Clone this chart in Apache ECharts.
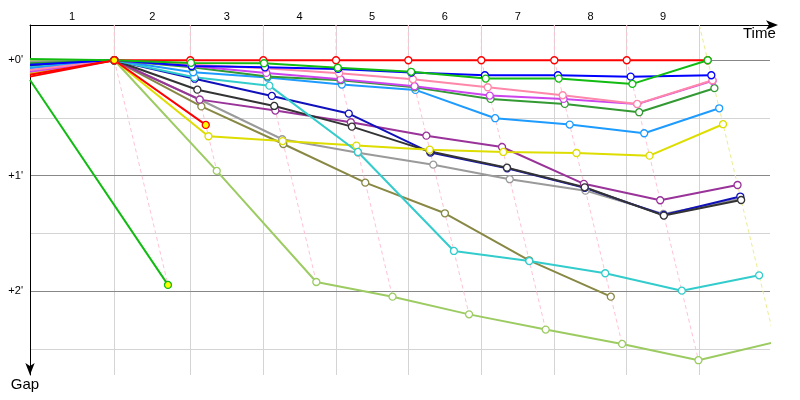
<!DOCTYPE html>
<html><head><meta charset="utf-8">
<script src="https://cdn.jsdelivr.net/npm/echarts@6/dist/echarts.min.js"></script>
<style>html,body{margin:0;padding:0;background:#fff}#c{width:800px;height:400px}</style>
</head><body><div id="c"></div>
<script>
// ---- data ----
const stageLabels = ['1', '2', '3', '4', '5', '6', '7', '8', '9'];
// leader's cumulative time (minutes) at the end of each stage
const leaderTimes = [3.054, 5.808, 8.453, 11.087, 13.707, 16.351, 18.996, 21.620, 24.554];
const gapMajor = [0, 1, 2];
const gapMinor = [0.5, 1.5, 2.5];
// gap to leader (minutes): start, then end of stage 1..9
const gapLightGreen = [0.003, 0, 0.958, 1.920, 2.047, 2.200, 2.332, 2.456, 2.597, 2.439];
const gapOlive      = [0.113, 0, 0.400, 0.725, 1.060, 1.325, 1.732, 2.047];
const gapGray       = [0.015, 0, 0.340, 0.684, 0.800, 0.904, 1.030, 1.129, 1.330, 1.200];
const gapPurple     = [0.100, 0, 0.341, 0.436, 0.537, 0.653, 0.751, 1.070, 1.212, 1.080];
const gapNavy       = [0.050, 0, 0.160, 0.309, 0.462, 0.800, 0.935, 1.105, 1.340, 1.180];
const gapBlack      = [0.055, 0, 0.255, 0.396, 0.575, 0.791, 0.930, 1.100, 1.345, 1.210];
const gapYellow     = [0.110, 0, 0.658, 0.700, 0.739, 0.774, 0.794, 0.803, 0.826, 0.554];
const gapCyan       = [0.060, 0, 0.147, 0.220, 0.794, 1.651, 1.738, 1.844, 1.995, 1.862];
const gapDodger     = [0.070, 0, 0.104, 0.150, 0.211, 0.257, 0.502, 0.557, 0.632, 0.416];
const gapDarkGreen  = [0.026, 0, 0.060, 0.140, 0.173, 0.235, 0.335, 0.378, 0.450, 0.242];
const gapMagenta    = [0.100, 0, 0.050, 0.110, 0.165, 0.225, 0.306, 0.335, 0.380, 0.178];
const gapPink       = [0.085, 0, 0.040, 0.070, 0.113, 0.165, 0.234, 0.303, 0.378, 0.173];
const gapBlue       = [0.040, 0, 0.050, 0.061, 0.075, 0.107, 0.130, 0.130, 0.142, 0.130];
const gapRed        = [0.125, 0, 0, 0, 0, 0, 0, 0, 0, 0];
const gapGreen      = [-0.010, 0, 0.023, 0.026, 0.065, 0.100, 0.159, 0.159, 0.205, 0];
const gapGreen2     = [0.171, 1.945];
const gapRed2       = [0.142, 0, 0.560];
// points marked with a yellow dot: [rider, index]
const markedPoints = [['green2', 1], ['red2', 1], ['red2', 2]];

// ---- build ----
const riders = [
  {id: 'lightgreen', g: gapLightGreen, c: '#9ccb62'},
  {id: 'olive', g: gapOlive, c: '#888844'},
  {id: 'gray', g: gapGray, c: '#9a9a9a'},
  {id: 'purple', g: gapPurple, c: '#993399'},
  {id: 'navy', g: gapNavy, c: '#1111bb'},
  {id: 'black', g: gapBlack, c: '#333333'},
  {id: 'yellow', g: gapYellow, c: '#dddd00'},
  {id: 'cyan', g: gapCyan, c: '#33cccc'},
  {id: 'dodger', g: gapDodger, c: '#1e9bff'},
  {id: 'darkgreen', g: gapDarkGreen, c: '#339933'},
  {id: 'magenta', g: gapMagenta, c: '#cc44ee'},
  {id: 'pink', g: gapPink, c: '#ff88aa'},
  {id: 'blue', g: gapBlue, c: '#0000ff'},
  {id: 'red', g: gapRed, c: '#ff0000'},
  {id: 'green', g: gapGreen, c: '#11bb11'},
  {id: 'green2', g: gapGreen2, c: '#11bb11'},
  {id: 'red2', g: gapRed2, c: '#ff0000'}
];
const Y_MIN = -0.305, Y_MAX = 2.725, X_MIN = 0, X_MAX = 26.81;
const nStages = leaderTimes.length;

function isMarked(id, i) { return markedPoints.some(p => p[0] === id && p[1] === i); }

const series = [];
// grid lines as markLines
const gridTopX = leaderTimes.map((t, k) => k === nStages - 1 ? t + Y_MIN : t);
series.push({
  type: 'line', data: [], silent: true, z: 0, symbol: 'none',
  markLine: {
    silent: true, z: 0, symbol: ['none', 'none'], label: {show: false}, animation: false,
    emphasis: {disabled: true},
    data: [
      ...gridTopX.map(x => ({xAxis: x, lineStyle: {color: '#d4d4d4', width: 1, type: 'solid'}})),
      ...gapMinor.map(y => ({yAxis: y, lineStyle: {color: '#d4d4d4', width: 1, type: 'solid'}})),
      ...gapMajor.map(y => ({yAxis: y, lineStyle: {color: '#888888', width: 1, type: 'solid'}}))
    ]
  }
});
// isochrone lines (stage finish)
for (let k = 1; k <= nStages; k++) {
  const T = leaderTimes[k - 1];
  let gmax = 0;
  riders.forEach(r => { if (r.g.length > k) gmax = Math.max(gmax, r.g[k]); });
  const last = k === nStages;
  const data = last ? [[T + Y_MIN, Y_MIN], [T + gmax, gmax]]
                    : [[T, Y_MIN], [T, 0], [T + gmax, gmax]];
  series.push({
    type: 'line', data, silent: true, z: 1, symbol: 'none',
    lineStyle: {color: last ? '#ecec90' : '#ffc2d2', width: 1, type: [4, 3]}
  });
}
// riders
riders.forEach(r => {
  const data = r.g.map((g, i) => {
    const x = i === 0 ? 0 : leaderTimes[i - 1] + g;
    if (i === 0) return {value: [x, g], symbol: 'none'};
    if (isMarked(r.id, i)) return {value: [x, g], itemStyle: {color: '#ffff00'}};
    return [x, g];
  });
  series.push({
    type: 'line', data, z: 2, symbol: 'circle', symbolSize: 7,
    lineStyle: {color: r.c, width: 2},
    itemStyle: {color: '#ffffff', borderColor: r.c, borderWidth: 1.3},
    emphasis: {disabled: true}
  });
});

const mids = stageLabels.map((s, k) => ((k === 0 ? 0 : gridTopX[k - 1]) + gridTopX[k]) / 2);

const option = {
  animation: false,
  backgroundColor: '#ffffff',
  textStyle: {fontFamily: 'Liberation Sans'},
  grid: {left: 30, top: 25, right: 30, bottom: 25, containLabel: false},
  xAxis: {
    type: 'value', position: 'top', min: X_MIN, max: X_MAX,
    name: 'Time', nameLocation: 'end', nameGap: -27,
    nameTextStyle: {fontSize: 15, color: '#000', align: 'left', verticalAlign: 'top', padding: [1, 0, 0, 0], fontFamily: 'Liberation Sans'},
    axisLine: {onZero: false, lineStyle: {color: '#000', width: 1}, symbol: ['none', 'arrow'], symbolSize: [7, 12], symbolOffset: [0, 8]},
    axisTick: {show: false},
    splitLine: {show: false},
    axisLabel: {
      customValues: mids, margin: 3, fontSize: 11, color: '#000', fontFamily: 'Liberation Sans',
      formatter: v => {
        let best = 0;
        mids.forEach((m, i) => { if (Math.abs(m - v) < Math.abs(mids[best] - v)) best = i; });
        return stageLabels[best];
      }
    }
  },
  yAxis: {
    type: 'value', inverse: true, min: Y_MIN, max: Y_MAX,
    name: 'Gap', nameLocation: 'end', nameGap: 2,
    nameTextStyle: {fontSize: 15, color: '#000', padding: [0, 10, 0, 0], fontFamily: 'Liberation Sans'},
    axisLine: {onZero: false, lineStyle: {color: '#000', width: 1}, symbol: ['arrow', 'none'], symbolSize: [7, 12], symbolOffset: [0, 0]},
    axisTick: {show: false},
    splitLine: {show: false},
    axisLabel: {
      margin: 7, fontSize: 11, color: '#000', fontFamily: 'Liberation Sans',
      formatter: v => (Math.abs(v - Math.round(v)) < 1e-6 && gapMajor.indexOf(Math.round(v)) >= 0) ? "+" + Math.round(v) + "'" : ''
    }
  },
  series
};
const chart = echarts.init(document.getElementById('c'), null, {renderer: 'canvas'});
chart.setOption(option);
</script>
</body></html>
